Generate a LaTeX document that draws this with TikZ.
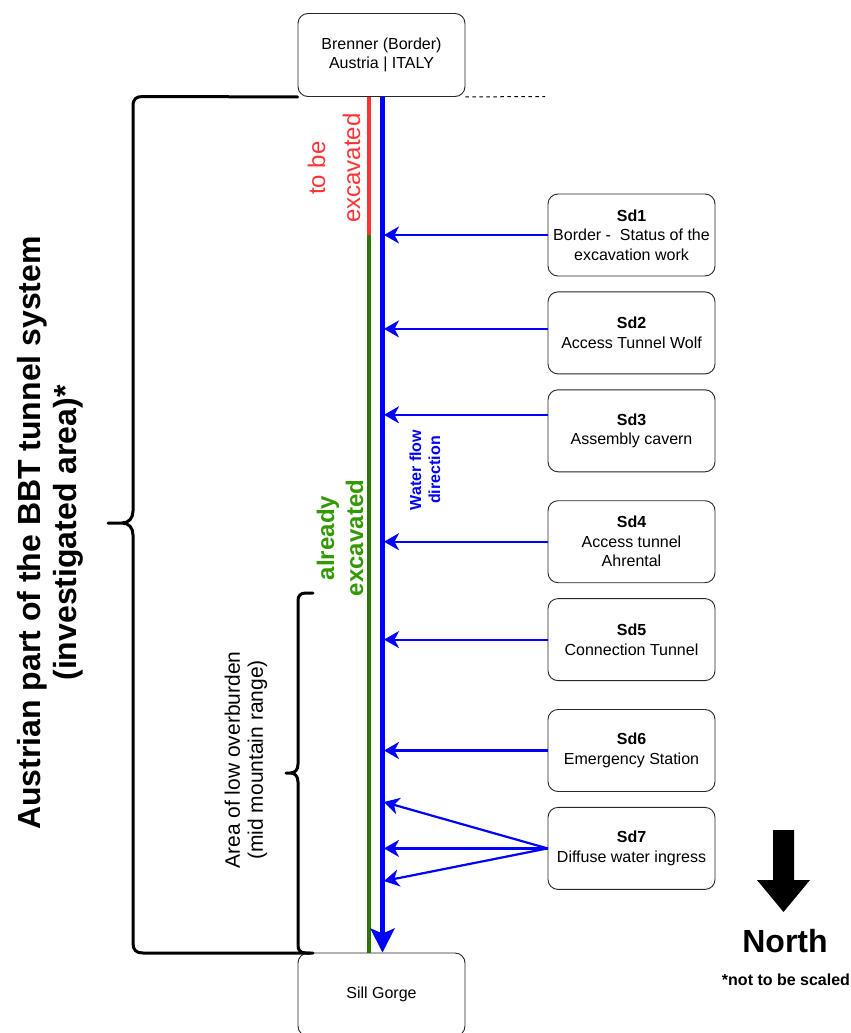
\documentclass[tikz,border=0pt]{standalone}
\usepackage{fontspec}
\setmainfont{Liberation Sans}
\usetikzlibrary{arrows.meta, positioning}

\definecolor{flowblue}{RGB}{0,0,255}
\definecolor{todored}{RGB}{255,51,51}
\definecolor{donegreen}{RGB}{45,118,0}
\definecolor{donetext}{RGB}{51,153,0}

\begin{document}
\begin{tikzpicture}[
    x=1pt, y=-1pt,
    node distance = 15pt,
    every node/.style={font=\fontsize{16}{19.5}\selectfont},
    box/.style={draw=black!85, rectangle, rounded corners=10pt, align=center, line width=0.9pt, minimum width=167pt, minimum height=83pt, inner sep=0pt},
    site/.style={box, minimum height=82pt},
    inflow/.style={-{Stealth[length=15pt, width=17pt, inset=4.5pt]}, flowblue, line width=2.2pt},
    flow/.style={-{Stealth[length=24pt, width=24pt, inset=5pt]}, flowblue, line width=5pt},
    brace/.style={line width=3pt, line join=round, line cap=round},
    sidelabel/.style={rotate=90, align=center}
]

\useasboundingbox (0,0) rectangle (851,1033);

% portals of the tunnel
\node[box] (brenner) at (381.5,55) {Brenner (Border)\\Austria | ITALY};
\node[box] (sill) at (381.5,994.5) {Sill Gorge};

% drainage sections
\node[site] (sd1) at (631.5,235) {\textbf{Sd1}\\Border -\ \ Status of the\\excavation work};
\node[site, below=of sd1] (sd2) {\textbf{Sd2}\\Access Tunnel Wolf};
\node[site, below=of sd2] (sd3) {\textbf{Sd3}\\Assembly cavern};
\node[site, below=28pt of sd3] (sd4) {\textbf{Sd4}\\Access tunnel\\Ahrental};
\node[site, below=of sd4] (sd5) {\textbf{Sd5}\\Connection Tunnel};
\node[site, below=28pt of sd5] (sd6) {\textbf{Sd6}\\Emergency Station};
\node[site, below=of sd6] (sd7) {\textbf{Sd7}\\Diffuse water ingress};

% excavation state and water flow
\coordinate (front) at (369,235);
\coordinate (axis) at (384,0);
\draw[todored, line width=3.5pt] ([xshift=-12.5pt]brenner.south) -- (front);
\draw[donegreen, line width=3.5pt] (front) -- ([xshift=-12.5pt]sill.north);
\draw[flow] ([xshift=1pt]brenner.south) -- ([xshift=1pt]sill.north);

% inflows
\coordinate (sd2 in) at ([yshift=4pt]sd2.west);
\coordinate (sd3 in) at ([yshift=16pt]sd3.west);
\draw[inflow] (sd1.west) -- (sd1.west -| axis);
\draw[inflow] (sd2 in) -- (sd2 in -| axis);
\draw[inflow] (sd3 in) -- (sd3 in -| axis);
\draw[inflow] (sd4.west) -- (sd4.west -| axis);
\draw[inflow] (sd5.west) -- (sd5.west -| axis);
\draw[inflow] (sd6.west) -- (sd6.west -| axis);
\coordinate (ingress top) at (384,802);
\coordinate (ingress low) at (384,881);
\draw[inflow] (sd7.west) -- (ingress top);
\draw[inflow] (sd7.west) -- (sd7.west -| axis);
\draw[inflow] (sd7.west) -- (ingress low);

% border line
\coordinate (border end) at (545,96.5);
\draw[dash pattern=on 3.5pt off 3.5pt, line width=1pt] (brenner.south east) -- (border end);

% labels along the tunnel
\node[sidelabel, todored, font=\fontsize{24}{35}\selectfont] (todo) at (334,168) {to be\\excavated};
\node[sidelabel, donetext, font=\bfseries\fontsize{24}{29}\selectfont] (done) at (340,538) {already\\excavated};
\node[sidelabel, flowblue, font=\bfseries\fontsize{16}{19}\selectfont] (flowdir) at (425,470) {Water flow\\direction};
\node[sidelabel, font=\bfseries\fontsize{32}{36}\selectfont] (scope) at (50,533) {Austrian part of the BBT tunnel system\\(investigated area)*};
\node[sidelabel, font=\fontsize{21}{23}\selectfont] (lowcover) at (246,760) {Area of low overburden\\(mid mountain range)};

% braces
\draw[brace] (brenner.south west) -- (143,96.5) .. controls (136,96.5) and (133,99) .. (133,106) -- (133,511) .. controls (133,518) and (129,523) .. (122,523) -- (108,523) -- (122,523) .. controls (129,523) and (133,528) .. (133,535) -- (133,943) .. controls (133,950) and (136,953) .. (143,953) -- (310,953);
\draw[brace] (313,593) -- (306,593) .. controls (300,593) and (298,596) .. (298,601) -- (298,764) .. controls (298,770) and (295,773) .. (290,773) -- (286,773) -- (290,773) .. controls (295,773) and (298,776) .. (298,782) -- (298,945) .. controls (298,950) and (300,953) .. (306,953) -- (313,953);

% north arrow
\fill (773,830) -- (794,830) -- (794,880) -- (810,880) -- (783.5,912) -- (757,880) -- (773,880) -- cycle;
\node[font=\bfseries\fontsize{32}{36}\selectfont] (north) at (785,941) {North};
\node[font=\bfseries\fontsize{16}{19}\selectfont] (noscale) at (786,980) {*not to be scaled};

\end{tikzpicture}
\end{document}
